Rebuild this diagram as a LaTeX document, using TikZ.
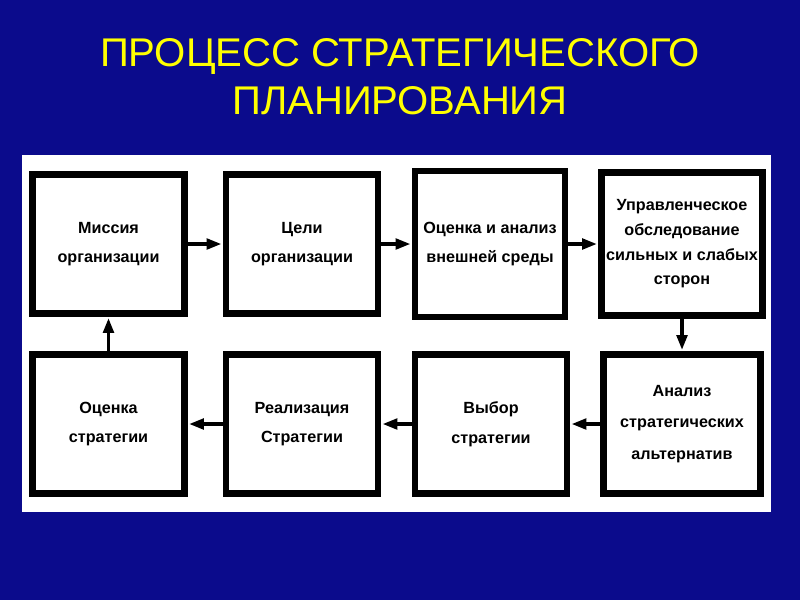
\documentclass[tikz,border=0pt]{standalone}
\usepackage{fontspec}
\setmainfont{Liberation Sans}
\usetikzlibrary{arrows.meta}
\definecolor{slideblue}{HTML}{0B0B8C}
\definecolor{titleyellow}{HTML}{FFFF00}
\definecolor{darkline}{HTML}{000000}
\tikzset{
  block/.style={
    rectangle,
    align=center,
    draw=darkline,
    fill=white,
    line width=4.5pt,
    minimum width=3.8cm,
    minimum height=3.475cm,
    font=\bfseries\fontsize{11.5}{21}\selectfont
  },
  slidetitle/.style={font=\fontsize{28.5}{34}\selectfont, text=titleyellow, align=center},
  panel/.style={rectangle, fill=white, inner sep=0pt, minimum width=18.725cm, minimum height=8.925cm},
  flow/.style={-{Triangle[length=10.5pt,width=7.5pt]}, line width=2.4pt, draw=darkline, shorten >=1pt}
}
\begin{document}
\begin{tikzpicture}[x=0.025cm, y=-0.025cm]

% Slide background and title.
\fill[slideblue] (0,0) rectangle (800,600);
\node[slidetitle] (title) at (400,77) {ПРОЦЕСС СТРАТЕГИЧЕСКОГО\\ПЛАНИРОВАНИЯ};
\node[panel] (panel) at (396.5,333.5) {};

% Top row.
\node[block] (mission) at (108.5,244) {Миссия\\организации};
\node[block] (goals) at (302,244) {Цели\\организации};
\node[block, minimum width=3.75cm, minimum height=3.65cm] (environment) at (490,244) {Оценка и анализ\\внешней среды};
\node[block, minimum width=3.975cm, minimum height=3.575cm, font=\bfseries\fontsize{11.5}{17.5}\selectfont] (survey) at (682,244) {Управленческое\\обследование\\сильных и слабых\\сторон};

% Bottom row.
\node[block, minimum width=3.925cm, font=\bfseries\fontsize{11.5}{22.5}\selectfont] (alternatives) at (682,424) {Анализ\\стратегических\\альтернатив};
\node[block] (choice) at (491,424) {Выбор\\стратегии};
\node[block] (implementation) at (302,424) {Реализация\\Стратегии};
\node[block] (evaluation) at (108.5,424) {Оценка\\стратегии};

% Planning cycle.
\draw[flow] (mission) -- (goals);
\draw[flow] (goals) -- (environment);
\draw[flow] (environment) -- (survey);
\draw[flow] (survey) -- (alternatives);
\draw[flow] (alternatives) -- (choice);
\draw[flow] (choice) -- (implementation);
\draw[flow] (implementation) -- (evaluation);
\draw[flow] (evaluation) -- (mission);

\end{tikzpicture}
\end{document}
